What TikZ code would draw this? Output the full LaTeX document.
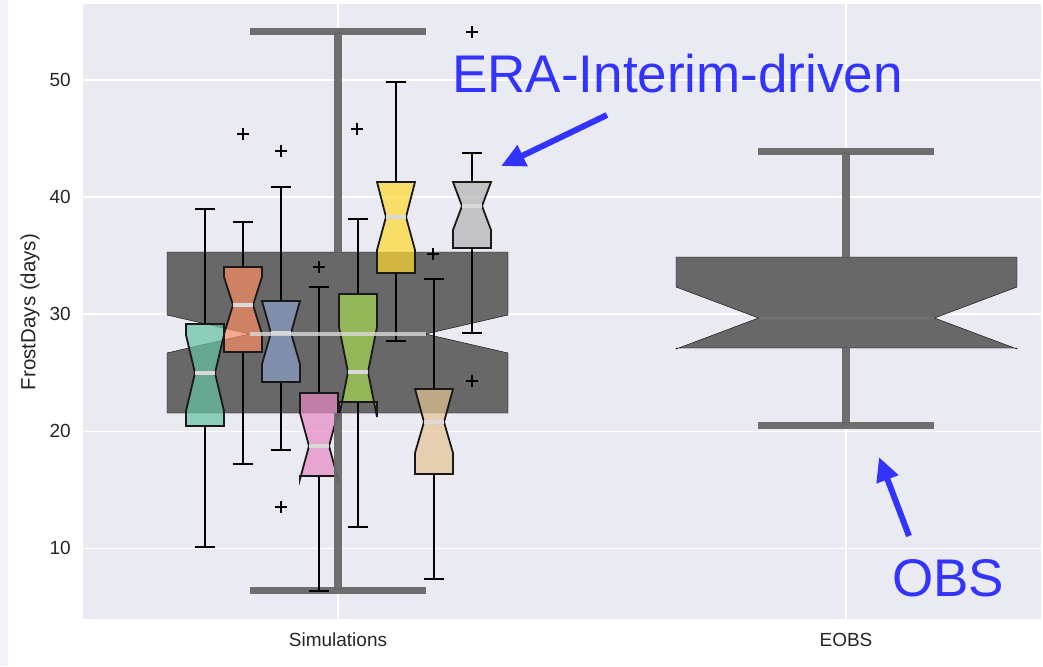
\documentclass[tikz,border=0pt]{standalone}
\usepackage{fontspec}
\setmainfont{Liberation Sans}
\usetikzlibrary{arrows.meta}

\definecolor{panel}{HTML}{EAEAF2}
\definecolor{strip}{HTML}{F3F4F7}
\definecolor{ink}{HTML}{262626}
\definecolor{ensemble}{HTML}{686868}
\definecolor{callout}{RGB}{51,51,255}
\definecolor{setteal}{HTML}{66C2A5}
\definecolor{setorange}{HTML}{FC8D62}
\definecolor{setblue}{HTML}{8DA0CB}
\definecolor{setpink}{HTML}{E78AC3}
\definecolor{setgreen}{HTML}{A6D854}
\definecolor{setyellow}{HTML}{FFD92F}
\definecolor{settan}{HTML}{E5C494}
\definecolor{setgrey}{HTML}{B3B3B3}

% notched box: style, centre, half width, notch half width, q3, notch top, median, notch bottom, q1
\newcommand{\notchbox}[9]{%
  \draw[#1] ({#2-#3},#9) -- ({#2+#3},#9) -- ({#2+#3},#8) -- ({#2+#4},#7) -- ({#2+#3},#6)
    -- ({#2+#3},#5) -- ({#2-#3},#5) -- ({#2-#3},#6) -- ({#2-#4},#7) -- ({#2-#3},#8) -- cycle;}

% one model: colour, centre, upper cap, q3, notch top, median, notch bottom, q1, lower cap
\newcommand{\simbox}[9]{%
  \draw[whisker] (#2,#4) -- (#2,#3) ({#2-10},#3) -- ({#2+10},#3);
  \draw[whisker] (#2,#8) -- (#2,#9) ({#2-10},#9) -- ({#2+10},#9);
  \notchbox{box, fill=#1}{#2}{19}{10}{#4}{#5}{#6}{#7}{#8}
  \draw[median] ({#2-10},#6) -- ({#2+10},#6);}

\newcommand{\flier}[2]{\draw[flierline] ({#1-6},#2) -- ({#1+6},#2) (#1,{#2-6}) -- (#1,{#2+6});}

\begin{document}
\begin{tikzpicture}[x=1pt, y=-1pt,
    gridline/.style={white, line width=1.6pt},
    tick/.style={text=ink, font=\fontsize{19}{22}\selectfont, inner sep=0pt},
    whisker/.style={black, line width=1.3pt},
    box/.style={draw=black!90, line width=1.8pt, fill opacity=0.7, line join=miter},
    median/.style={draw=black!15, line width=3.5pt},
    flierline/.style={black, line width=1.1pt},
    bigbox/.style={fill=ensemble},
    bigwhisker/.style={draw=ensemble, line width=8pt, opacity=0.95},
    bigcap/.style={draw=ensemble, line width=7pt, opacity=0.95},
    callarrow/.style={callout, line width=6pt, -{Triangle[length=24pt,width=22pt]}},
    calltext/.style={text=callout, font=\fontsize{53}{60}\selectfont, inner sep=0pt}
  ]
  \useasboundingbox (0,0) rectangle (1043,666);

  % Canvas
  \fill[white] (0,0) rectangle (1043,666);
  \fill[strip] (0,0) rectangle (8,666);
  \fill[panel] (83,4) rectangle (1041,619);

  % Grid
  \foreach \gy in {80,197.1,314.2,431.3,548.4}
    \draw[gridline] (83,\gy) -- (1041,\gy);
  \draw[gridline] (338,4) -- (338,619);
  \draw[gridline] (846,4) -- (846,619);

  % Axis labels
  \node[tick, anchor=east] (y50) at (71,80) {50};
  \node[tick, anchor=east] (y40) at (71,197.1) {40};
  \node[tick, anchor=east] (y30) at (71,314.2) {30};
  \node[tick, anchor=east] (y20) at (71,431.3) {20};
  \node[tick, anchor=east] (y10) at (71,548.4) {10};
  \node[tick, rotate=90, font=\fontsize{20.5}{24}\selectfont] (ylab) at (30,312) {FrostDays (days)};
  \node[tick] (xsim) at (338,640) {Simulations};
  \node[tick] (xobs) at (846,640) {EOBS};

  % Ensemble spread
  \notchbox{bigbox}{337.5}{170.5}{88}{252}{315}{334}{353}{413}
  \draw[bigcap] (250,32) -- (426,32);
  \draw[bigcap] (250,590) -- (426,590);

  % Single models
  \simbox{setteal}{205}{209}{324}{335}{373}{411}{426}{547}
  \simbox{setorange}{243}{222}{267}{277}{305}{334}{352}{464}
  \simbox{setblue}{281}{187}{301}{301}{333}{364}{382}{450}
  \simbox{setpink}{319}{287}{393}{413}{446}{479}{476}{591}
  \simbox{setgreen}{358}{219}{294}{327}{372}{417}{402}{527}
  \simbox{setyellow}{396}{82}{182}{182}{217}{250}{273}{341}
  \simbox{settan}{434}{279}{389}{389}{422}{453}{474}{579}
  \simbox{setgrey}{472}{153}{182}{182}{206}{230}{248}{333}
  \draw[median, opacity=0.8] (249.5,334) -- (425.5,334);
  \draw[bigwhisker] (338,252) -- (338,32);
  \draw[bigwhisker] (338,413) -- (338,590);

  % Outliers
  \flier{243}{134}
  \flier{281}{151}
  \flier{281}{507}
  \flier{319}{267}
  \flier{357}{129}
  \flier{433}{254}
  \flier{472}{32}
  \flier{472}{381}

  % Observations
  \notchbox{bigbox}{846.5}{170.5}{88}{257}{287}{318}{349}{348}
  \draw[draw=black!45, line width=2pt, opacity=0.3] (758.5,318) -- (934.5,318);
  \draw[bigwhisker] (846,257) -- (846,151);
  \draw[bigwhisker] (846,348) -- (846,425);
  \draw[bigcap] (758,151) -- (934,151);
  \draw[bigcap] (758,425) -- (934,425);

  % Callouts
  \node[calltext, anchor=base west] (era) at (452,93) {ERA-Interim-driven};
  \node[calltext, anchor=base west] (obs) at (892,596) {OBS};
  \coordinate (erafrom) at (607,115);
  \coordinate (erato) at (501,166);
  \coordinate (obsfrom) at (909,536);
  \coordinate (obsto) at (879,457);
  \draw[callarrow] (erafrom) -- (erato);
  \draw[callarrow] (obsfrom) -- (obsto);
\end{tikzpicture}
\end{document}
